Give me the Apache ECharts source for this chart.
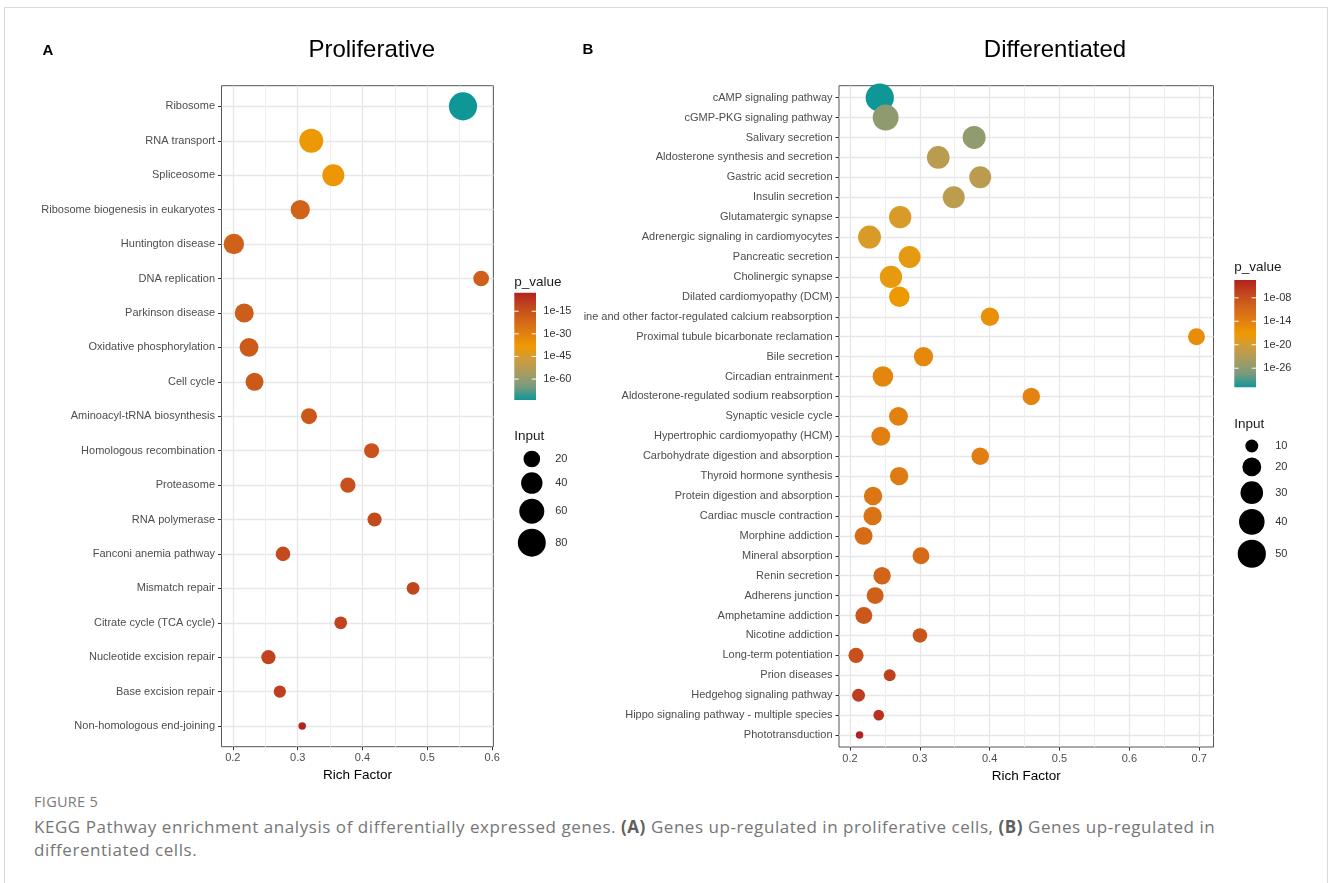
<!DOCTYPE html>
<html>
<head>
<meta charset="utf-8">
<script src="https://cdn.jsdelivr.net/npm/echarts@6/dist/echarts.min.js"></script>
<style>
html,body{margin:0;padding:0;background:#fff;width:1328px;height:883px;overflow:hidden;}
#frame{position:absolute;left:4px;top:7px;width:1322px;height:900px;border:1px solid #d9d9d9;border-bottom:none;}
#chart{position:absolute;left:0;top:0;width:1328px;height:790px;}
.cap{position:absolute;left:34px;font-family:'Open Sans',sans-serif;white-space:nowrap;}
#fig{top:793px;font-size:14.5px;line-height:18px;color:#7a7a7a;letter-spacing:0.3px;}
#txt{top:815px;font-size:17px;line-height:23px;color:#767676;letter-spacing:0.55px;}
#txt b{color:#606060;}
</style>
</head>
<body>
<div id="frame"></div>
<div id="chart"></div>
<div class="cap" id="fig">FIGURE 5</div>
<div class="cap" id="txt">KEGG Pathway enrichment analysis of differentially expressed genes. <b>(A)</b> Genes up-regulated in proliferative cells, <b>(B)</b> Genes up-regulated in<br>differentiated cells.</div>
<script>
// ---------------- DATA ----------------
const catsA = ['Ribosome','RNA transport','Spliceosome','Ribosome biogenesis in eukaryotes','Huntington disease','DNA replication','Parkinson disease','Oxidative phosphorylation','Cell cycle','Aminoacyl-tRNA biosynthesis','Homologous recombination','Proteasome','RNA polymerase','Fanconi anemia pathway','Mismatch repair','Citrate cycle (TCA cycle)','Nucleotide excision repair','Base excision repair','Non-homologous end-joining'];
const richA = [0.555,0.321,0.355,0.304,0.2016,0.583,0.2176,0.225,0.2335,0.3175,0.414,0.3775,0.4186,0.2774,0.478,0.3664,0.2549,0.2725,0.307];
const inputA = [82,54,43,30,35,17,29,28,25,18,15,16,13,14,10,10,13,9,5];
const pA = [1.3e-74,1e-39,1e-37,1.3e-20,2.5e-20,8e-20,4e-19,2e-18,6e-18,1.6e-17,3e-16,2.5e-15,1.6e-13,3e-13,2.5e-12,8e-12,1.6e-11,2.5e-10,2e-3];

const catsB = ['cAMP signaling pathway','cGMP-PKG signaling pathway','Salivary secretion','Aldosterone synthesis and secretion','Gastric acid secretion','Insulin secretion','Glutamatergic synapse','Adrenergic signaling in cardiomyocytes','Pancreatic secretion','Cholinergic synapse','Dilated cardiomyopathy (DCM)','ine and other factor-regulated calcium reabsorption','Proximal tubule bicarbonate reclamation','Bile secretion','Circadian entrainment','Aldosterone-regulated sodium reabsorption','Synaptic vesicle cycle','Hypertrophic cardiomyopathy (HCM)','Carbohydrate digestion and absorption','Thyroid hormone synthesis','Protein digestion and absorption','Cardiac muscle contraction','Morphine addiction','Mineral absorption','Renin secretion','Adherens junction','Amphetamine addiction','Nicotine addiction','Long-term potentiation','Prion diseases','Hedgehog signaling pathway','Hippo signaling pathway - multiple species','Phototransduction'];
const richB = [0.2427,0.2511,0.3778,0.3264,0.3865,0.3486,0.2719,0.228,0.2854,0.2587,0.2707,0.4004,0.6961,0.3053,0.2472,0.4596,0.2695,0.2442,0.3865,0.2704,0.2331,0.2325,0.2196,0.3017,0.246,0.2361,0.2199,0.3002,0.2087,0.2569,0.2123,0.2412,0.2138];
const inputB = [50,41,31,30,28,28,29,31,28,29,24,19,16,21,24,17,20,20,17,19,19,19,18,16,17,16,16,12,13,9,10,8,7];
const pB = [1.3e-31,1.6e-26,2.5e-26,4e-23,6e-23,8e-23,3.5e-20,5e-20,8e-19,1.3e-18,6e-18,1e-16,2.5e-16,1e-15,2.5e-15,4e-15,8e-15,1.3e-14,2e-14,4e-14,2.5e-13,6e-13,4e-12,8e-12,5e-11,1.4e-10,1.3e-9,2.5e-9,1e-8,5e-7,1e-6,1e-5,3.6e-4];

const xTicksA = [0.2,0.3,0.4,0.5,0.6];
const xMinorA = [0.25,0.35,0.45,0.55];
const xTicksB = [0.2,0.3,0.4,0.5,0.6,0.7];
const xMinorB = [0.25,0.35,0.45,0.55,0.65];
const pTicksA = [-15,-30,-45,-60];
const pLabelsA = ['1e-15','1e-30','1e-45','1e-60'];
const pTicksB = [-8,-14,-20,-26];
const pLabelsB = ['1e-08','1e-14','1e-20','1e-26'];
const sizeBreaksA = [20,40,60,80];
const sizeBreaksB = [10,20,30,40,50];

// ---------------- STYLE / LAYOUT ----------------
const FONT = "'Liberation Sans', Arial, Helvetica, sans-serif";
// gradient low p -> high p (teal -> orange -> red), Lab-like intermediate stops
const RAMP = ['#0F9697','#789B7E','#A79C60','#CD9C3F','#EE9A00','#E17E12','#D16419','#C2461D','#B2221E'];
const D_MIN = 7.5, D_MAX = 28.2;
const GRID_MAJOR = '#e7e7e7', GRID_MINOR = '#efefef';
const AX_TEXT = '#4d4d4d';
const CB_W = 21.7, CB_H = 107.3;

const panels = [
  {cats: catsA, rich: richA, input: inputA, p: pA, ticks: xTicksA, minor: xMinorA,
   pTicks: pTicksA, pLabels: pLabelsA, sBreaks: sizeBreaksA,
   grid: {left: 221.5, top: 85.7, width: 272, height: 661},
   title: 'Proliferative', titleX: 371.8, letter: 'A', letterX: 42.5, letterY: 51.3,
   legX: 514.3, ptTitleY: 282.5, cbY: 292.7, inTitleY: 436, key0Y: 459},
  {cats: catsB, rich: richB, input: inputB, p: pB, ticks: xTicksB, minor: xMinorB,
   pTicks: pTicksB, pLabels: pLabelsB, sBreaks: sizeBreaksB,
   grid: {left: 839, top: 85.7, width: 374.5, height: 661.3},
   title: 'Differentiated', titleX: 1055, letter: 'B', letterX: 582.6, letterY: 49.7,
   legX: 1234.3, ptTitleY: 267.5, cbY: 280, inTitleY: 424, key0Y: 446}
];

function sizeScale(lo, hi) {
  return v => D_MIN + (D_MAX - D_MIN) * Math.sqrt(Math.max(0, (v - lo) / (hi - lo)));
}

const grids = [], xAxes = [], yAxes = [], series = [], visualMaps = [], graphics = [];
const rampTopDown = RAMP.slice().reverse().map((c, i, a) => ({offset: i / (a.length - 1), color: c}));

panels.forEach((P, k) => {
  const n = P.cats.length;
  const lo = Math.min(...P.rich), hi = Math.max(...P.rich), pad = 0.05 * (hi - lo);
  const sLo = Math.min(...P.input), sHi = Math.max(...P.input);
  const size = sizeScale(sLo, sHi);
  const lp = P.p.map(v => Math.log10(v));
  const lpMin = Math.min(...lp), lpMax = Math.max(...lp);

  grids.push(Object.assign({show: true, borderColor: '#555', borderWidth: 1, backgroundColor: 'transparent', containLabel: false}, P.grid));

  xAxes.push({
    gridIndex: k, type: 'value', position: 'bottom', min: lo - pad, max: hi + pad,
    axisLine: {show: false, onZero: false},
    axisTick: {show: true, length: 3.5, customValues: P.ticks, lineStyle: {color: '#333', width: 1}},
    axisLabel: {show: true, customValues: P.ticks, color: AX_TEXT, fontSize: 11, fontFamily: FONT, margin: 6,
                formatter: v => String(Math.round(v * 10) / 10)},
    splitLine: {show: true, lineStyle: {color: GRID_MAJOR, width: 1.3}},
    name: 'Rich Factor', nameLocation: 'middle', nameGap: 19,
    nameTextStyle: {color: '#000', fontSize: 13.5, fontFamily: FONT}
  });
  xAxes.push({
    gridIndex: k, type: 'value', position: 'top', min: lo - pad, max: hi + pad,
    axisLine: {show: false, onZero: false}, axisLabel: {show: false},
    axisTick: {show: false, customValues: P.minor},
    splitLine: {show: true, lineStyle: {color: GRID_MINOR, width: 1}}
  });
  const idx = P.cats.map((c, i) => i);
  yAxes.push({
    gridIndex: k, type: 'value', inverse: true, min: -0.6, max: n - 1 + 0.6,
    axisLine: {show: false, onZero: false},
    axisTick: {show: true, length: 3.5, customValues: idx, lineStyle: {color: '#333', width: 1}},
    axisLabel: {show: true, customValues: idx, color: AX_TEXT, fontSize: 11, fontFamily: FONT, margin: 6.5,
                formatter: v => P.cats[Math.round(v)]},
    splitLine: {show: true, lineStyle: {color: GRID_MAJOR, width: 1.3}}
  });

  series.push({
    type: 'scatter', xAxisIndex: 2 * k, yAxisIndex: k, clip: true,
    data: P.rich.map((r, i) => [r, i, P.input[i], lp[i]]),
    symbol: 'circle',
    symbolSize: val => size(val[2]),
    itemStyle: {opacity: 1},
    emphasis: {disabled: true}
  });
  visualMaps.push({
    type: 'continuous', show: false, seriesIndex: k, dimension: 3,
    min: lpMin, max: lpMax, inRange: {color: RAMP}
  });

  // titles
  graphics.push({type: 'text', x: P.titleX, y: 50.5, style: {text: P.title, font: '24px ' + FONT, fill: '#000', align: 'center', verticalAlign: 'middle'}});
  graphics.push({type: 'text', x: P.letterX, y: P.letterY, style: {text: P.letter, font: 'bold 15px ' + FONT, fill: '#000', align: 'left', verticalAlign: 'middle'}});

  // colour bar legend
  const lx = P.legX;
  graphics.push({type: 'text', x: lx, y: P.ptTitleY, style: {text: 'p_value', font: '13.5px ' + FONT, fill: '#1a1a1a', align: 'left', verticalAlign: 'middle'}});
  graphics.push({type: 'rect', shape: {x: lx, y: P.cbY, width: CB_W, height: CB_H},
    style: {fill: new echarts.graphic.LinearGradient(0, 0, 0, 1, rampTopDown)}});
  P.pTicks.forEach((t, i) => {
    const y = P.cbY + (lpMax - t) / (lpMax - lpMin) * CB_H;
    graphics.push({type: 'line', shape: {x1: lx, y1: y, x2: lx + 4.3, y2: y}, style: {stroke: '#fff', lineWidth: 1}});
    graphics.push({type: 'line', shape: {x1: lx + CB_W - 4.3, y1: y, x2: lx + CB_W, y2: y}, style: {stroke: '#fff', lineWidth: 1}});
    graphics.push({type: 'text', x: lx + CB_W + 7.3, y: y, style: {text: P.pLabels[i], font: '11px ' + FONT, fill: '#333', align: 'left', verticalAlign: 'middle'}});
  });

  // size legend
  graphics.push({type: 'text', x: lx, y: P.inTitleY, style: {text: 'Input', font: '13.5px ' + FONT, fill: '#1a1a1a', align: 'left', verticalAlign: 'middle'}});
  const cx = lx + 17.5;
  let cy = P.key0Y, prevH = null;
  P.sBreaks.forEach((b, i) => {
    const d = size(b);
    const h = Math.max(17.3, d + 5);
    if (prevH !== null) cy += (prevH + h) / 2;
    prevH = h;
    graphics.push({type: 'circle', shape: {cx: cx, cy: cy, r: d / 2}, style: {fill: '#000'}});
    graphics.push({type: 'text', x: cx + 23.4, y: cy, style: {text: String(b), font: '11px ' + FONT, fill: '#333', align: 'left', verticalAlign: 'middle'}});
  });
});

const chart = echarts.init(document.getElementById('chart'), null, {renderer: 'canvas'});
chart.setOption({
  animation: false,
  backgroundColor: 'transparent',
  textStyle: {fontFamily: FONT},
  grid: grids,
  xAxis: xAxes,
  yAxis: yAxes,
  visualMap: visualMaps,
  series: series,
  graphic: graphics
});
</script>
</body>
</html>
